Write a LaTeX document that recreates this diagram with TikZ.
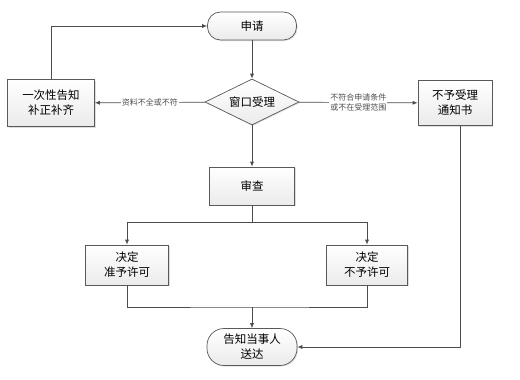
\documentclass[tikz,border=0pt]{standalone}
\usepackage{fontspec}
\newfontfamily\cjk{Noto Sans CJK SC}
\usetikzlibrary{arrows.meta,shapes.geometric,shadows}
\begin{document}
\begin{tikzpicture}[x=1pt,y=-1pt,
  base/.style={draw=black!65,line width=0.7pt,top color=white,bottom color=black!8,
    drop shadow={shadow xshift=1pt,shadow yshift=-1pt,fill=black!25},
    font=\cjk\fontsize{11.5}{15}\selectfont,align=center,inner sep=0pt},
  term/.style={base,rounded corners=13pt,minimum width=89pt,minimum height=28pt},
  term2/.style={base,rounded corners=17pt,minimum width=90pt,minimum height=37pt},
  box/.style={base,minimum width=86pt,minimum height=46pt},
  dec/.style={base,diamond,aspect=2.1,minimum width=94pt,minimum height=46pt},
  conn/.style={draw=black!70,line width=0.7pt,-{Latex[length=5pt,width=4pt]}},
  lbl/.style={font=\cjk\fontsize{8}{10}\selectfont,text=black!70,fill=white,align=center,inner sep=1pt}]
\useasboundingbox[fill=white] (0,0) rectangle (520,380);
\node[term] (apply) at (252,26) {申请};
\node[dec] (window) at (252,102) {窗口受理};
\node[box,minimum width=87pt,minimum height=47pt] (once) at (51,103) {一次性告知\\补正补齐};
\node[box,minimum width=74pt,minimum height=45pt] (reject) at (455,103) {不予受理\\通知书};
\node[box,minimum width=85pt,minimum height=38pt] (review) at (252,186) {审查};
\node[box,minimum width=83pt,minimum height=40pt] (grant) at (127,265) {决定\\准予许可};
\node[box,minimum width=81pt,minimum height=40pt] (deny) at (367,265) {决定\\不予许可};
\node[term2] (notify) at (252,347) {告知当事人\\送达};
\coordinate (split) at (252,222);
\coordinate (merge) at (252,307);
\draw[conn] (apply) -- (window);
\draw[conn] (window) -- node[lbl] {资料不全或不符} (once);
\draw[conn] (window) -- node[lbl] {不符合申请条件\\或不在受理范围} (reject);
\draw[conn] (once.north) |- (apply.west);
\draw[conn] (window) -- (review);
\draw[draw=black!70,line width=0.7pt] (review) -- (split);
\draw[conn] (split) -| (grant.north);
\draw[conn] (split) -| (deny.north);
\draw[draw=black!70,line width=0.7pt] (grant.south) |- (merge) -| (deny.south);
\draw[conn] (merge) -- (notify);
\draw[conn] ([xshift=5pt]reject.south) |- (notify.east);
\end{tikzpicture}
\end{document}
